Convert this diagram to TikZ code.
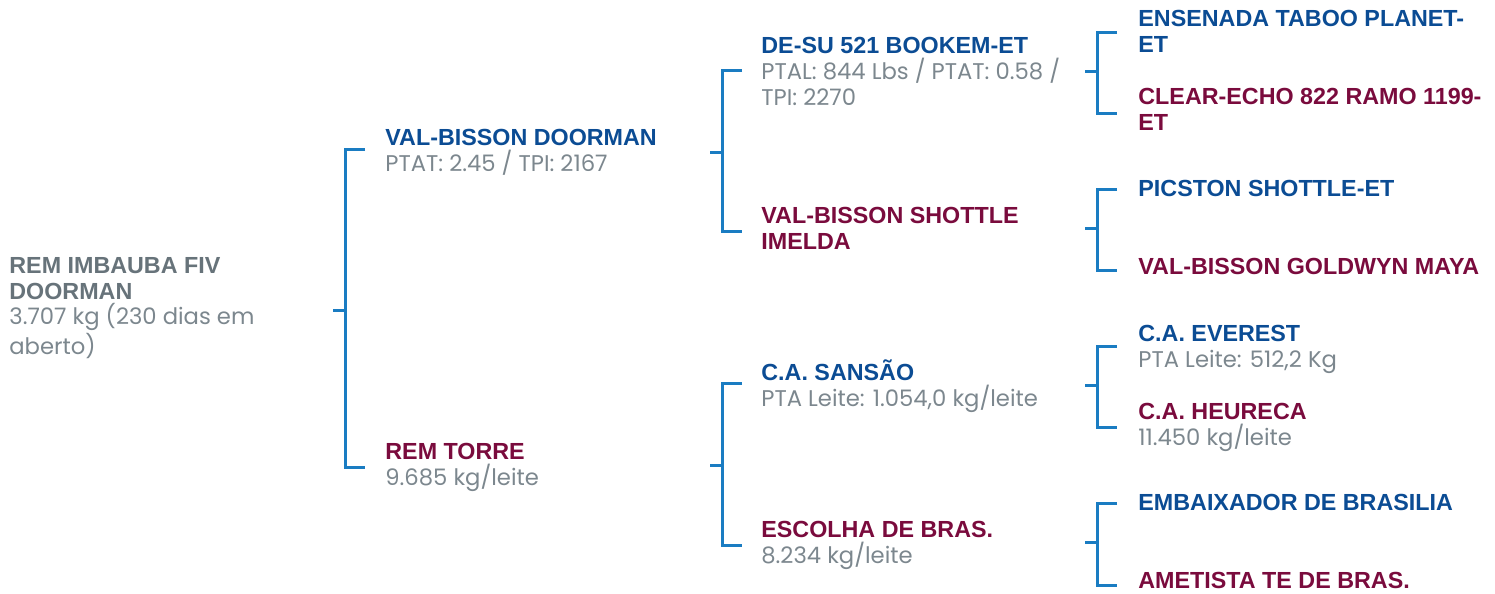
\documentclass[tikz,border=0pt]{standalone}
\usepackage{fontspec}
\usepackage{xcolor}
\usepackage{tikz}
\usetikzlibrary{positioning,calc}

\newfontfamily\namefont{Liberation Sans}
\newfontfamily\infofont{Poppins}

\definecolor{sireblue}{HTML}{0B4C94}
\definecolor{damred}{HTML}{7A0B3D}
\definecolor{linkblue}{HTML}{1A7CC2}
\definecolor{rootgray}{HTML}{67737A}
\definecolor{infogray}{HTML}{7C878E}

\newcommand{\info}[1]{{\infofont\mdseries\fontsize{11.35}{12.8}\selectfont\color{infogray}#1}}

\tikzset{
  animal/.style={anchor=base west, inner sep=0pt, align=left,
    font=\namefont\bfseries\fontsize{11.65}{12.8}\selectfont},
  male/.style={animal, text=sireblue},
  female/.style={animal, text=damred},
  bracket/.style={draw=linkblue, line width=1.5pt}
}

\begin{document}
\begin{tikzpicture}[x=0.5pt, y=-0.5pt]
    \useasboundingbox (0,0) rectangle (1495,594);

    % Animal (nodes sit on the baseline of their last line)
    \node[animal, text=rootgray] (root) at (9,354)
        {REM IMBAUBA FIV\\DOORMAN\\\info{3.707 kg (230 dias em}\\\info{aberto)}};

    % Parents
    \node[male] (sire) at (385,171) {VAL-BISSON DOORMAN\\\info{PTAT: 2.45 / TPI: 2167}};
    \node[female] (dam) at (385,485) {REM TORRE\\\info{9.685 kg/leite}};

    % Grandparents
    \node[male] (ss) at (761,105)
        {DE-SU 521 BOOKEM-ET\\\info{PTAL: 844 Lbs / PTAT: 0.58 /}\\\info{TPI: 2270}};
    \node[female] (sd) at (761,249) {VAL-BISSON SHOTTLE\\IMELDA};
    \node[male] (ds) at (761,406) {C.A. SANSÃO\\\info{PTA Leite: 1.054,0 kg/leite}};
    \node[female] (dd) at (761,563) {ESCOLHA DE BRAS.\\\info{8.234 kg/leite}};

    % Great-grandparents
    \node[male] (sss) at (1138,52) {ENSENADA TABOO PLANET-\\ET};
    \node[female] (ssd) at (1138,130) {CLEAR-ECHO 822 RAMO 1199-\\ET};
    \node[male] (sds) at (1138,196) {PICSTON SHOTTLE-ET};
    \node[female] (sdd) at (1138,274) {VAL-BISSON GOLDWYN MAYA};
    \node[male] (dss) at (1138,367) {C.A. EVEREST\\\info{PTA Leite: 512,2 Kg}};
    \node[female] (dsd) at (1138,445) {C.A. HEURECA\\\info{11.450 kg/leite}};
    \node[male] (dds) at (1138,510) {EMBAIXADOR DE BRASILIA};
    \node[female] (ddd) at (1138,588) {AMETISTA TE DE BRAS.};

    % Brackets: stub, upper tick, lower tick
    \foreach \b/\x/\yt/\ym/\yb in {root/345/149/310/467,
        sire/722/70/152/231, dam/722/383/465/545,
        ss/1097/32/71/113, sd/1097/189/228/270,
        ds/1097/346/385/427, dd/1097/503/542/585} {
        \coordinate (j-\b) at (\x-12,\ym);
        \coordinate (t-\b) at (\x+20,\yt);
        \coordinate (u-\b) at (\x+20,\yb);
        \draw[bracket] (t-\b) -- ++(-20,0) |- (u-\b);
        \draw[bracket] (j-\b) -- ++(12,0);
    }
\end{tikzpicture}
\end{document}
